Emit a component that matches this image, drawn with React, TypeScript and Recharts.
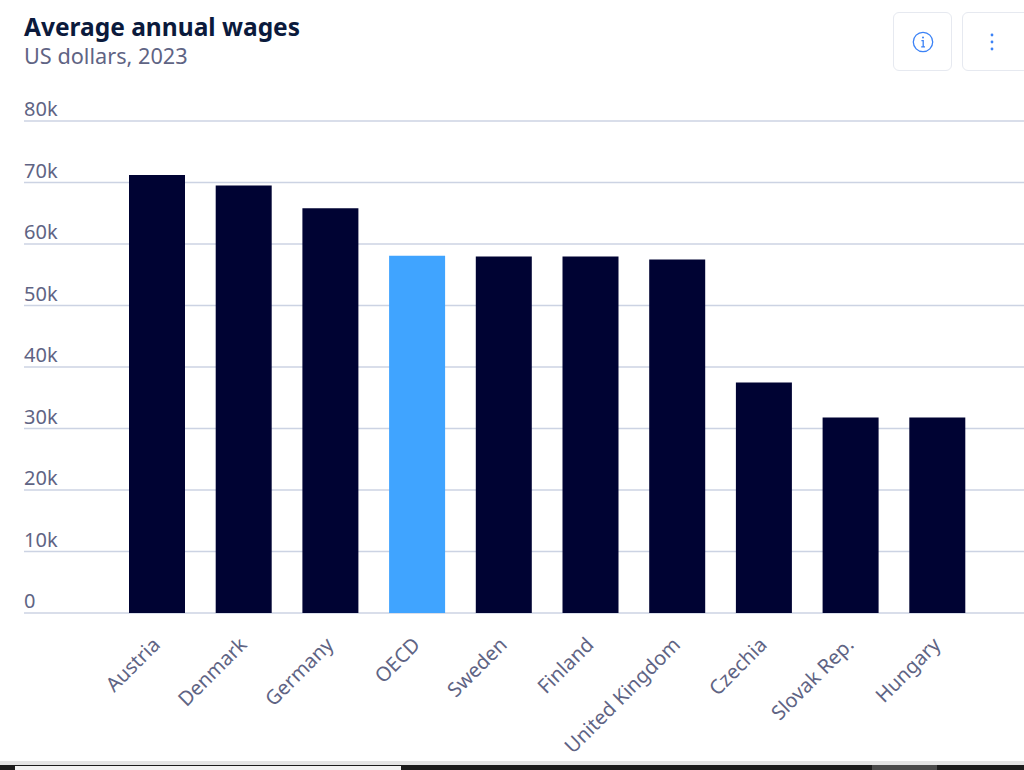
import React from 'react';
import { BarChart, Bar, XAxis, YAxis, CartesianGrid, Cell } from 'recharts';

const countries = ['Austria', 'Denmark', 'Germany', 'OECD', 'Sweden', 'Finland', 'United Kingdom', 'Czechia', 'Slovak Rep.', 'Hungary'];
const wages = [71200, 69500, 65800, 58100, 57950, 57950, 57500, 37500, 31800, 31800];
const yTicks = [0, 10000, 20000, 30000, 40000, 50000, 60000, 70000, 80000];

const chartData = countries.map((name, i) => ({ name, wage: wages[i] }));

const FONT = '"Noto Sans", sans-serif';
const TEXT_GREY = '#5f6484';

const YTick = ({ y, payload }: any) => (
  <text x={24} y={y - 5} textAnchor="start" fontFamily={FONT} fontSize={20} fill={TEXT_GREY}>
    {payload.value === 0 ? '0' : `${payload.value / 1000}k`}
  </text>
);

const XTick = ({ x, y, payload }: any) => (
  <text
    x={x + 4}
    y={y + 25}
    textAnchor="end"
    transform={`rotate(-45 ${x + 4} ${y + 25})`}
    fontFamily={FONT}
    fontSize={20}
    fill={TEXT_GREY}
  >
    {payload.value}
  </text>
);

const boxStyle: React.CSSProperties = {
  position: 'absolute',
  top: 12,
  width: 57,
  height: 57,
  border: '1px solid #e6e9f0',
  borderRadius: 6,
  background: '#fff',
  display: 'flex',
  alignItems: 'center',
  justifyContent: 'center',
};

export default function App() {
  return (
    <div style={{ position: 'absolute', left: 0, top: 0, width: 1024, height: 770, overflow: 'hidden', background: '#fff', fontFamily: FONT }}>
      <div style={{ position: 'absolute', left: 24, top: 12, fontSize: 24.5, fontWeight: 700, color: '#0b1a3c', lineHeight: '30px' }}>
        Average annual wages
      </div>
      <div style={{ position: 'absolute', left: 24, top: 41, fontSize: 21.7, color: TEXT_GREY, lineHeight: '30px' }}>
        US dollars, 2023
      </div>

      <div style={{ ...boxStyle, left: 893 }}>
        <svg width="22" height="22" viewBox="0 0 22 22">
          <circle cx="11" cy="11" r="9.7" fill="none" stroke="#3b82f6" strokeWidth="1.3" />
          <circle cx="11" cy="6.6" r="1" fill="#3b82f6" />
          <path d="M9.4 9.6H11.2V15.6M9.2 15.8H13" fill="none" stroke="#3b82f6" strokeWidth="1.3" />
        </svg>
      </div>
      <div style={{ ...boxStyle, left: 962, width: 70 }}>
        <svg width="6" height="20" viewBox="0 0 6 20" style={{ marginRight: 12 }}>
          <circle cx="3" cy="3" r="1.4" fill="#3b82f6" />
          <circle cx="3" cy="10" r="1.4" fill="#3b82f6" />
          <circle cx="3" cy="17" r="1.4" fill="#3b82f6" />
        </svg>
      </div>

      <div style={{ position: 'absolute', left: 0, top: 0 }}>
        <BarChart
          width={1024}
          height={770}
          data={chartData}
          margin={{ top: 121, right: 0, bottom: 0, left: 0 }}
          barSize={56}
        >
          <CartesianGrid horizontal vertical={false} stroke="#ccd3e3" strokeWidth={1.5} />
          <XAxis
            dataKey="name"
            interval={0}
            height={157}
            axisLine={false}
            tickLine={false}
            tick={<XTick />}
            padding={{ left: 90, right: 43 }}
          />
          <YAxis
            width={24}
            domain={[0, 80000]}
            ticks={yTicks}
            axisLine={false}
            tickLine={false}
            tickMargin={0}
            tick={<YTick />}
          />
          <Bar dataKey="wage" isAnimationActive={false}>
            {chartData.map((entry) => (
              <Cell key={entry.name} fill={entry.name === 'OECD' ? '#40a4ff' : '#000333'} />
            ))}
          </Bar>
        </BarChart>
      </div>

      <div style={{ position: 'absolute', left: 0, top: 761, width: 1024, height: 4, background: '#e4e4e4' }} />
      <div style={{ position: 'absolute', left: 0, top: 765, width: 1024, height: 5, background: '#1c1c1c' }} />
      <div style={{ position: 'absolute', left: 15, top: 766, width: 386, height: 4, background: '#f2f2f2' }} />
      <div style={{ position: 'absolute', left: 872, top: 765, width: 65, height: 5, background: '#4a4a4a' }} />
    </div>
  );
}
